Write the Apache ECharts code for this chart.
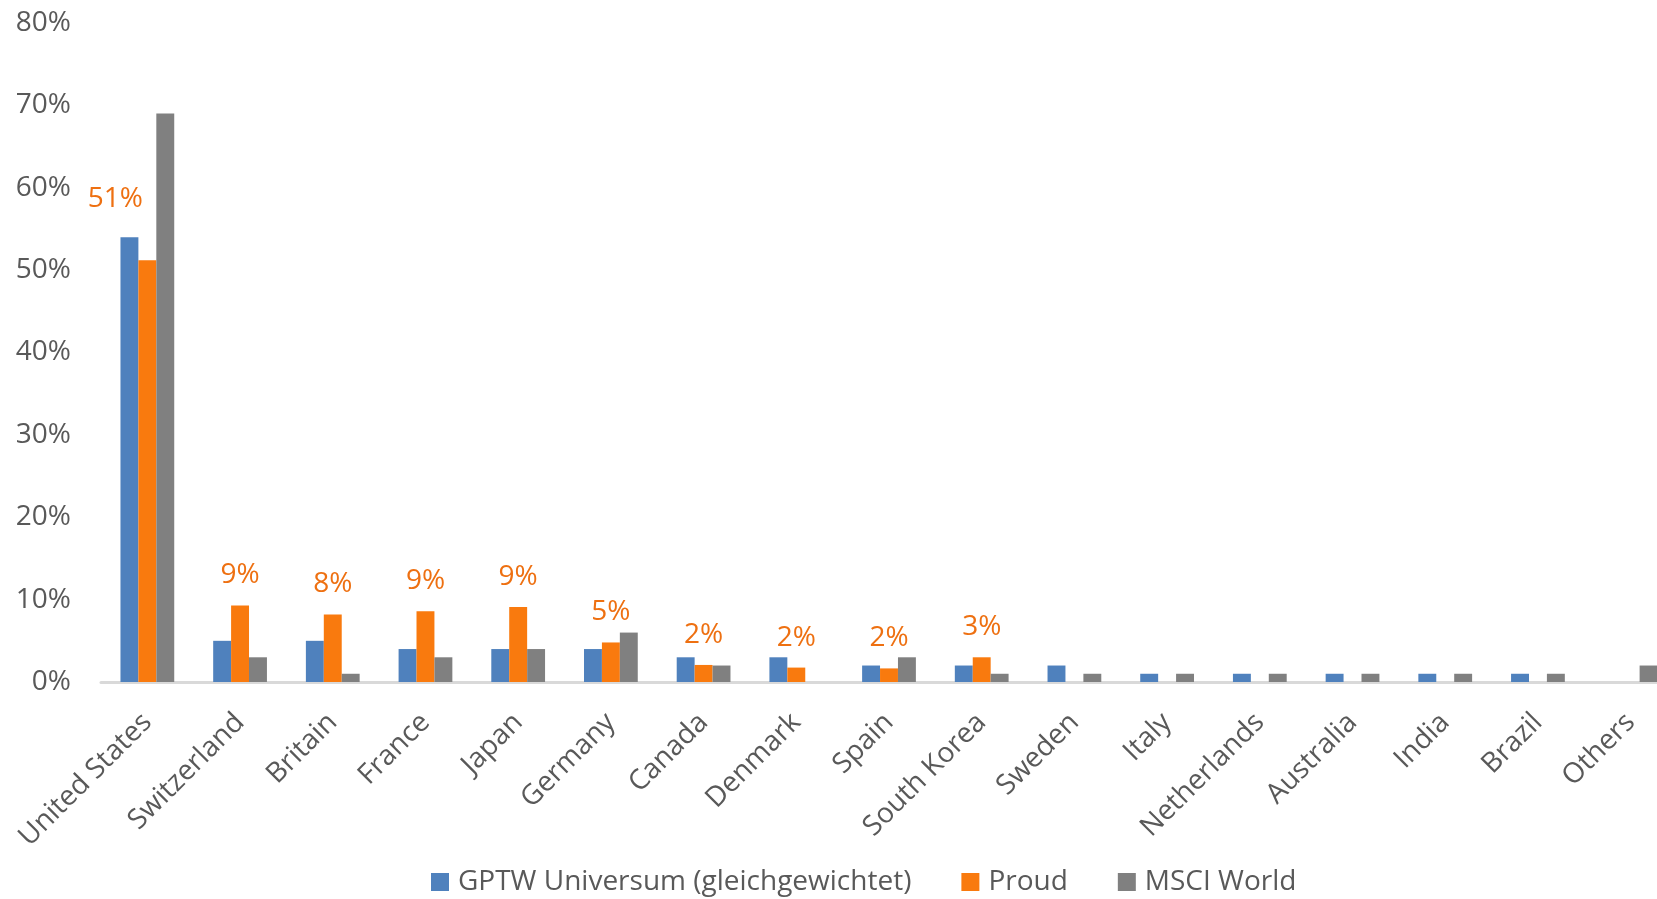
<!DOCTYPE html>
<html>
<head>
<meta charset="utf-8">
<script src="https://cdn.jsdelivr.net/npm/echarts@6/dist/echarts.min.js"></script>
<style>html,body{margin:0;padding:0;background:#fff}#c{width:1657px;height:899px}</style>
</head>
<body>
<div id="c"></div>
<script>
const categories = ['United States','Switzerland','Britain','France','Japan','Germany','Canada','Denmark','Spain','South Korea','Sweden','Italy','Netherlands','Australia','India','Brazil','Others'];
const gptw = [54, 5, 5, 4, 4, 4, 3, 3, 2, 2, 2, 1, 1, 1, 1, 1, 0];
const proud = [51.2, 9.3, 8.2, 8.6, 9.1, 4.8, 2.07, 1.75, 1.65, 3, 0, 0, 0, 0, 0, 0, 0];
const proudLabels = ['51%','9%','8%','9%','9%','5%','2%','2%','2%','3%','','','','','','',''];
const msci = [69, 3, 1, 3, 4, 6, 2, 0, 3, 1, 1, 1, 1, 1, 1, 1, 2];
const yTicks = [0, 10, 20, 30, 40, 50, 60, 70, 80];

const FONT = '"Open Sans", "Noto Sans", sans-serif';
const chart = echarts.init(document.getElementById('c'));
chart.setOption({
  animation: false,
  textStyle: { fontFamily: FONT },
  grid: { left: 101, width: 1576, top: 23, bottom: 217, containLabel: false, outerBoundsMode: 'none' },
  legend: {
    bottom: -2, left: 426, itemWidth: 18, itemHeight: 18, itemGap: 50,
    icon: 'rect',
    textStyle: { fontSize: 28, color: '#595959', fontFamily: FONT, padding: [0, 0, 0, 4] },
    data: ['GPTW Universum (gleichgewichtet)', 'Proud', 'MSCI World']
  },
  xAxis: {
    type: 'category', data: categories,
    axisLine: { lineStyle: { color: '#D9D9D9', width: 3 } },
    axisTick: { show: false },
    axisLabel: { rotate: 45, interval: 0, fontSize: 28, color: '#595959', margin: 36, fontFamily: FONT }
  },
  yAxis: {
    type: 'value', min: yTicks[0], max: yTicks[yTicks.length - 1], interval: 10,
    axisLine: { show: false }, axisTick: { show: false }, splitLine: { show: false },
    axisLabel: { formatter: '{value}%', fontSize: 28, color: '#595959', margin: 30, fontFamily: FONT }
  },
  series: [
    { name: 'GPTW Universum (gleichgewichtet)', type: 'bar', data: gptw, barGap: '0%', barCategoryGap: '42%',
      itemStyle: { color: '#4F81BD' } },
    { name: 'Proud', type: 'bar', barGap: '0%', barCategoryGap: '42%',
      itemStyle: { color: '#F97A0E' },
      data: proud.map((v, i) => {
        const item = { value: v };
        if (i === 0) item.label = { offset: [-32, -31] };
        return item;
      }),
      label: { show: true, position: 'top', distance: 16, fontSize: 28, color: '#EE7011', fontFamily: FONT,
        formatter: p => proudLabels[p.dataIndex] } },
    { name: 'MSCI World', type: 'bar', data: msci, barGap: '0%', barCategoryGap: '42%',
      itemStyle: { color: '#808080' } }
  ]
});
</script>
</body>
</html>
